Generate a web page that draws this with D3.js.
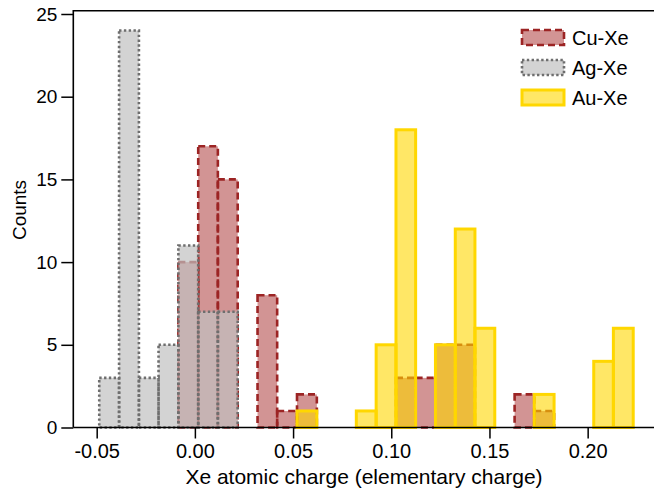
<!DOCTYPE html>
<html><head><meta charset="utf-8">
<script src="https://cdn.jsdelivr.net/npm/d3@7"></script>
<style>body{margin:0;background:#fff;} svg{display:block;font-family:"Liberation Sans",Arial,sans-serif;}</style>
</head><body>
<svg id="c" width="654" height="491"></svg>
<script>
// bin lower edges (elementary charge)
const binEdges = [-0.0487,-0.0386,-0.0285,-0.0185,-0.0084,0.0017,0.0117,0.0218,0.0319,0.0419,0.0520,0.0621,0.0721,0.0822,0.0923,0.1024,0.1124,0.1225,0.1326,0.1426,0.1527,0.1628,0.1728,0.1829,0.1930,0.2031,0.2131,0.2232];
const cuCounts = [0,0,0,0,10,17,15,0,8,1,2,0,0,0,0,3,3,5,5,0,0,2,1,0,0,0,0];
const agCounts = [3,24,3,5,11,7,7,0,0,0,0,0,0,0,0,0,0,0,0,0,0,0,0,0,0,0,0];
const auCounts = [0,0,0,0,0,0,0,0,0,0,1,0,0,1,5,18,0,5,12,6,0,0,2,0,0,4,6];
const seriesNames = ["Cu-Xe","Ag-Xe","Au-Xe"];
const xTicks = [-0.05,0.00,0.05,0.10,0.15,0.20];
const xTickLabels = ["-0.05","0.00","0.05","0.10","0.15","0.20"];
const yTicks = [0,5,10,15,20,25];

const styles = {
  "Cu-Xe": {fill:"#a52a2a", fo:0.5, stroke:"#9c2424", sw:2.6, dash:"7,4"},
  "Ag-Xe": {fill:"#c0c0c0", fo:0.7, stroke:"#6e6e6e", sw:2.6, dash:"2.4,2.4"},
  "Au-Xe": {fill:"#ffd700", fo:0.6, stroke:"#ffd700", sw:3, dash:null}
};
const countsBy = {"Cu-Xe":cuCounts,"Ag-Xe":agCounts,"Au-Xe":auCounts};

const svg = d3.select("#c");
const L = 73.3, R = 656, T = 10.7, B = 427.5;
const x = d3.scaleLinear().domain([-0.06191, 0.2348]).range([L, R]);
const y = d3.scaleLinear().domain([0, 25]).range([B, 14]);

seriesNames.forEach(name => {
  const st = styles[name];
  const data = countsBy[name].map((c,i)=>({x0:binEdges[i], x1:binEdges[i+1], c})).filter(d=>d.c>0);
  const g = svg.append("g");
  g.selectAll("rect.f").data(data).join("rect")
    .attr("x", d=>x(d.x0)).attr("width", d=>x(d.x1)-x(d.x0))
    .attr("y", d=>y(d.c)).attr("height", d=>y(0)-y(d.c))
    .attr("fill", st.fill).attr("fill-opacity", st.fo).attr("stroke","none");
  g.selectAll("rect.s").data(data).join("rect")
    .attr("x", d=>x(d.x0)).attr("width", d=>x(d.x1)-x(d.x0))
    .attr("y", d=>y(d.c)).attr("height", d=>y(0)-y(d.c))
    .attr("fill","none").attr("stroke", st.stroke).attr("stroke-width", st.sw)
    .attr("stroke-dasharray", st.dash);
});

// axes
const xAxis = d3.axisBottom(x).tickValues(xTicks).tickFormat((d,i)=>xTickLabels[i]).tickSize(11).tickPadding(5).tickSizeOuter(0);
const gx = svg.append("g").attr("transform",`translate(0,${B})`).call(xAxis);
const yAxis = d3.axisLeft(y).tickValues(yTicks).tickSize(12).tickPadding(4).tickSizeOuter(0);
const gy = svg.append("g").attr("transform",`translate(${L},0)`).call(yAxis);
[gx,gy].forEach(g=>{
  g.select(".domain").remove();
  g.selectAll(".tick line").attr("stroke","#000").attr("stroke-width",1.5);
  g.selectAll(".tick text").attr("fill","#000").style("font-family","'Liberation Sans',Arial,sans-serif");
});
gx.selectAll(".tick text").style("font-size","20px");
gy.selectAll(".tick text").style("font-size","19px");
svg.append("path").attr("d",`M${L},${B}H${R}M${L},${B}V${T}H${R}`).attr("fill","none").attr("stroke","#000").attr("stroke-width",1.6);

svg.append("text").attr("x", 364).attr("y", 484).attr("text-anchor","middle")
  .style("font-size","21px").text("Xe atomic charge (elementary charge)");
svg.append("text").attr("transform","translate(26,210) rotate(-90)").attr("text-anchor","middle")
  .style("font-size","19px").text("Counts");

// legend
const lg = svg.append("g");
seriesNames.forEach((name,i)=>{
  const st = styles[name];
  const yy = 30 + i*30;
  lg.append("rect").attr("x",522).attr("y",yy).attr("width",42).attr("height",15)
    .attr("fill",st.fill).attr("fill-opacity",st.fo).attr("stroke",st.stroke).attr("stroke-width",st.sw).attr("stroke-dasharray",st.dash);
  lg.append("text").attr("x",572).attr("y",yy+7.5).attr("dy","0.36em").style("font-size","20px").text(name);
});
</script>
</body></html>
